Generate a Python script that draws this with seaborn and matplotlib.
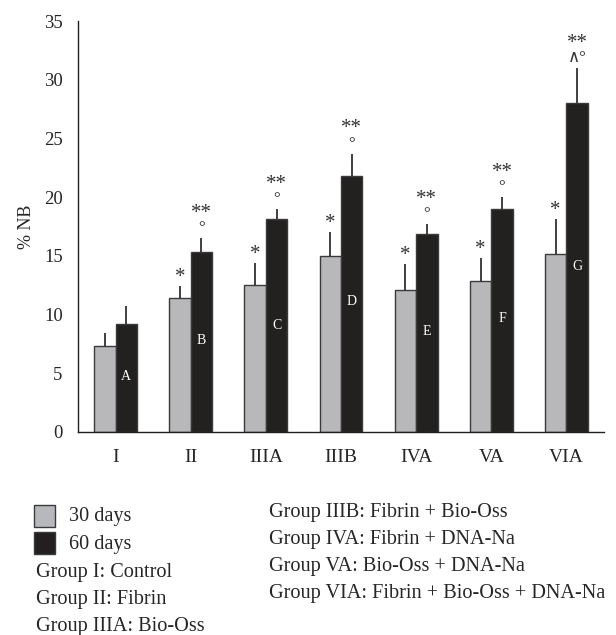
import matplotlib
matplotlib.use("Agg")
import matplotlib.pyplot as plt
import seaborn as sns
import pandas as pd
import numpy as np
from matplotlib.patches import Rectangle

groups = ["I", "II", "IIIA", "IIIB", "IVA", "VA", "VIA"]
days30 = [7.3, 11.4, 12.5, 15.0, 12.1, 12.9, 15.2]
days30_err = [1.1, 1.0, 1.9, 2.0, 2.2, 1.9, 2.9]
days60 = [9.2, 15.3, 18.1, 21.8, 16.9, 19.0, 28.0]
days60_err = [1.5, 1.2, 0.9, 1.9, 0.8, 1.0, 3.0]
letters = ["A", "B", "C", "D", "E", "F", "G"]
letter_y = [4.7, 7.8, 9.1, 11.1, 8.6, 9.7, 14.1]
marks30 = ["", "*", "*", "*", "*", "*", "*"]
marks60_top = ["", "**", "**", "**", "**", "**", "**"]
marks60_low = ["", "°", "°", "°", "°", "°", "∧°"]
series = ["30 days", "60 days"]
legend_left = ["Group I: Control", "Group II: Fibrin", "Group IIIA: Bio-Oss"]
legend_right = ["Group IIIB: Fibrin + Bio-Oss", "Group IVA: Fibrin + DNA-Na",
                "Group VA: Bio-Oss + DNA-Na", "Group VIA: Fibrin + Bio-Oss + DNA-Na"]

gray = "#b7b8bb"
black = "#231f20"

sns.set_style("white")
plt.rcParams["font.family"] = ["Liberation Serif", "DejaVu Serif"]

df = pd.DataFrame({
    "group": groups * 2,
    "value": days30 + days60,
    "series": [series[0]] * len(groups) + [series[1]] * len(groups),
})

W, H = 616, 635
fig = plt.figure(figsize=(W / 100, H / 100), dpi=100)
ax = fig.add_axes([78 / W, 1 - 432 / H, 526 / W, 411 / H])
sns.barplot(data=df, x="group", y="value", hue="series", order=groups,
            hue_order=series, palette=[gray, black], width=0.57,
            edgecolor="#3a3a3a", linewidth=1.0, errorbar=None, legend=False, ax=ax)

patches = [p for p in ax.patches if p.get_height() > 0]
n = len(groups)
p30 = patches[:n]
p60 = patches[n:]
x30 = [p.get_x() + p.get_width() / 2 for p in p30]
x60 = [p.get_x() + p.get_width() / 2 for p in p60]

ax.errorbar(x30, days30, yerr=[np.zeros(n), days30_err], fmt="none",
            ecolor=black, elinewidth=1.2, capsize=0, zorder=1)
ax.errorbar(x60, days60, yerr=[np.zeros(n), days60_err], fmt="none",
            ecolor=black, elinewidth=1.2, capsize=0, zorder=1)

for i in range(n):
    t30 = days30[i] + days30_err[i]
    t60 = days60[i] + days60_err[i]
    if marks30[i]:
        ax.text(x30[i], t30 + 0.35, marks30[i], ha="center", va="baseline",
                fontsize=15, color="#333333")
    if marks60_low[i]:
        ax.text(x60[i], t60 + 0.48, marks60_low[i], ha="center", va="baseline",
                fontsize=12, color="#333333")
        ax.text(x60[i], t60 + 1.72, marks60_top[i], ha="center", va="baseline",
                fontsize=15, color="#333333")
    ax.text(x60[i], letter_y[i], letters[i], ha="center", va="center",
            fontsize=10, color="white")

ax.set_ylim(0, 35)
ax.set_xlim(-0.5, 6.5)
ax.set_yticks(range(0, 36, 5))
ax.set_xlabel("")
ax.set_ylabel("% NB", fontsize=13, labelpad=6.5)
ax.set_xticks(np.arange(-0.5, 7.0, 1.0), minor=True)
ax.tick_params(axis="x", which="major", length=0, labelsize=14, pad=12)
ax.tick_params(axis="x", which="minor", length=5, direction="out", width=1, color=black)
ax.tick_params(axis="y", which="major", length=3, direction="out", width=1,
               color=black, labelsize=13.5, pad=8)
for s in ["top", "right"]:
    ax.spines[s].set_visible(False)
for s in ["left", "bottom"]:
    ax.spines[s].set_color(black)
    ax.spines[s].set_linewidth(1.0)

# Legend area below
fig.patches.append(Rectangle((34 / W, 1 - 527 / H), 21 / W, 22 / H,
                             transform=fig.transFigure, facecolor=gray,
                             edgecolor="#3a3a3a", linewidth=1))
fig.patches.append(Rectangle((34 / W, 1 - 554 / H), 21 / W, 22 / H,
                             transform=fig.transFigure, facecolor=black,
                             edgecolor="#3a3a3a", linewidth=1))
fs_leg = 14.6
fig.text(69 / W, 1 - 517 / H, series[0], fontsize=fs_leg, va="center", ha="left")
fig.text(69 / W, 1 - 545 / H, series[1], fontsize=fs_leg, va="center", ha="left")
for j, t in enumerate(legend_left):
    fig.text(36 / W, 1 - (573 + 26.5 * j) / H, t, fontsize=fs_leg, va="center", ha="left")
for j, t in enumerate(legend_right):
    fig.text(269 / W, 1 - (513 + 26.7 * j) / H, t, fontsize=fs_leg, va="center", ha="left")

fig.savefig("out.png", dpi=100)
